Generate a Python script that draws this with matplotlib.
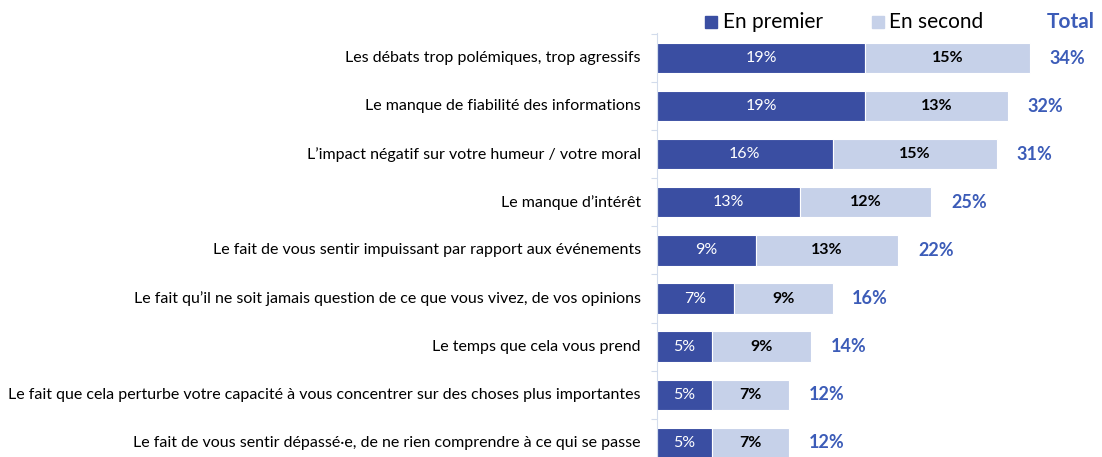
import matplotlib
matplotlib.use("Agg")
import matplotlib.pyplot as plt
from matplotlib.patches import Circle

categories = [
    "Les débats trop polémiques, trop agressifs",
    "Le manque de fiabilité des informations",
    "L\u2019impact négatif sur votre humeur / votre moral",
    "Le manque d\u2019intérêt",
    "Le fait de vous sentir impuissant par rapport aux événements",
    "Le fait qu\u2019il ne soit jamais question de ce que vous vivez, de vos opinions",
    "Le temps que cela vous prend",
    "Le fait que cela perturbe votre capacité à vous concentrer sur des choses plus importantes",
    "Le fait de vous sentir dépassé\u00b7e, de ne rien comprendre à ce qui se passe",
]
premier = [19, 19, 16, 13, 9, 7, 5, 5, 5]
second = [15, 13, 15, 12, 13, 9, 9, 7, 7]
total = [34, 32, 31, 25, 22, 16, 14, 12, 12]

DARK = "#3A4EA2"
LIGHT = "#C6D1E9"
TOTALC = "#3C5CB8"
FONT = "Lato"

W, H = 1102, 457
fig = plt.figure(figsize=(W / 100, H / 100), dpi=100)
x0 = 657
pxper = 10.97
xmax = (W - x0) / pxper
ax = fig.add_axes([x0 / W, 0, 1 - x0 / W, 1])
row0, step = 58, 48.1
ybot, ytop = (H - row0) / step, -row0 / step

ys = list(range(len(categories)))
ax.barh(ys, premier, height=0.63, color=DARK, edgecolor="white", linewidth=0.8)
ax.barh(ys, second, left=premier, height=0.63, color=LIGHT, edgecolor="white", linewidth=0.8)

for i in ys:
    ax.text(premier[i] / 2, i, f"{premier[i]}%", ha="center", va="center",
            color="white", fontsize=11.5, family=FONT)
    ax.text(premier[i] + second[i] / 2, i, f"{second[i]}%", ha="center", va="center",
            color="black", fontsize=11.5, family=FONT, fontweight="bold")
    ax.text(total[i] + 1.8, i, f"{total[i]}%", ha="left", va="center",
            color=TOTALC, fontsize=13, family=FONT, fontweight="bold")
    ax.text(-16 / pxper, i, categories[i], ha="right", va="center",
            color="black", fontsize=11.5, family=FONT, clip_on=False)

for s in ["top", "right", "bottom"]:
    ax.spines[s].set_visible(False)
ax.spines["left"].set_color("#D3DCEC")
ax.spines["left"].set_linewidth(0.8)
ax.set_xticks([])
ax.set_yticks([i - 0.5 for i in range(len(categories))])
ax.set_yticklabels([])
ax.tick_params(axis="y", length=4, color="#D3DCEC", width=0.8, direction="out")
ax.set_xlim(0, xmax)
ax.set_ylim(ybot, ytop)
ax.spines["left"].set_bounds(-0.52, ybot)

# legend
fig.patches.append(plt.Rectangle((705 / W, 1 - 28 / H), 12 / W, 12 / H,
                                 transform=fig.transFigure, color=DARK))
fig.text(723 / W, 1 - 22 / H, "En premier", ha="left", va="center",
         fontsize=15, family=FONT, color="black")
fig.patches.append(plt.Rectangle((872 / W, 1 - 28 / H), 12 / W, 12 / H,
                                 transform=fig.transFigure, color=LIGHT))
fig.text(889 / W, 1 - 22 / H, "En second", ha="left", va="center",
         fontsize=15, family=FONT, color="black")
fig.text(1047 / W, 1 - 22 / H, "Total", ha="left", va="center",
         fontsize=15, family=FONT, color=TOTALC, fontweight="bold")

# small orange mark at bottom left
fig.patches.append(Circle((124 / W, 1 - 462 / H), 7 / W, transform=fig.transFigure,
                          facecolor="none", edgecolor="#F5A623", linewidth=2.5))

fig.savefig("out.png", dpi=100)
